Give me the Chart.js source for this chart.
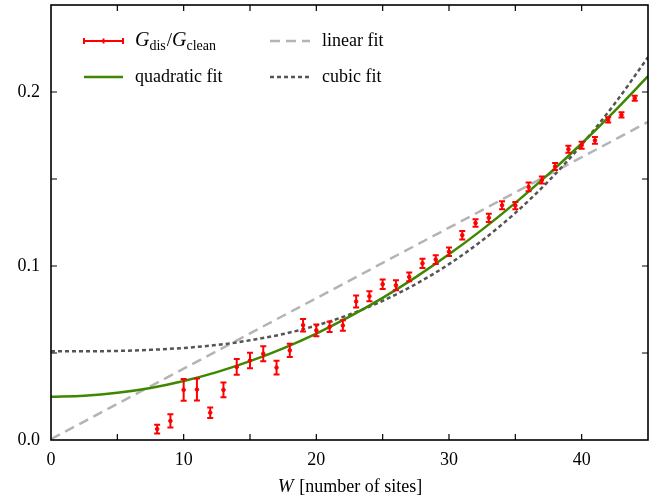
<!DOCTYPE html>
<html>
<head>
<meta charset="utf-8">
<script src="https://cdn.jsdelivr.net/npm/chart.js@4.4.1/dist/chart.umd.min.js"></script>
<style>
html,body{margin:0;padding:0;background:#fff;}
#wrap{width:670px;height:499px;}
</style>
</head>
<body>
<div id="wrap"><canvas id="c" width="670" height="499"></canvas></div>
<script>
// ---- data ----
const W = [8,9,10,11,12,13,14,15,16,17,18,19,20,21,22,23,24,25,26,27,28,29,30,31,32,33,34,35,36,37,38,39,40,41,42,43,44];
const G = [0.0063,0.0110,0.0288,0.0290,0.0157,0.0288,0.0420,0.0457,0.0496,0.0416,0.0515,0.0660,0.0630,0.0650,0.0658,0.0796,0.0826,0.0895,0.0889,0.0937,0.1015,0.1037,0.1082,0.1177,0.1247,0.1277,0.1349,0.1347,0.1455,0.1494,0.1572,0.1671,0.1694,0.1722,0.1840,0.1868,0.1964];
const Gerr = [0.0025,0.0038,0.0063,0.0063,0.0030,0.0043,0.0045,0.0044,0.0043,0.0040,0.0038,0.0036,0.0034,0.0030,0.0030,0.0034,0.0029,0.0027,0.0029,0.0025,0.0026,0.0025,0.0025,0.0024,0.0021,0.0024,0.0023,0.0021,0.0025,0.0020,0.0020,0.0020,0.0020,0.0020,0.0015,0.0015,0.0015];

const fitW = [0,2.5,5,7.5,10,12.5,15,17.5,20,22.5,25,27.5,30,32.5,35,37.5,40,42.5,45];
const linearFit = [0.0005,0.0106,0.0208,0.0309,0.0410,0.0511,0.0613,0.0714,0.0815,0.0916,0.1018,0.1119,0.1220,0.1321,0.1423,0.1524,0.1625,0.1726,0.1828];
const quadFit = [0.0248,0.0254,0.0271,0.0299,0.0339,0.0390,0.0453,0.0527,0.0612,0.0709,0.0817,0.0936,0.1067,0.1209,0.1363,0.1528,0.1704,0.1892,0.2091];
const cubicFit = [0.0510,0.0510,0.0512,0.0518,0.0529,0.0546,0.0573,0.0609,0.0658,0.0721,0.0800,0.0896,0.1011,0.1147,0.1305,0.1488,0.1697,0.1934,0.2200];

const xTickLabels = [0,10,20,30,40];
const yTickLabels = [0.0,0.1,0.2];

const FONT = "'Liberation Serif', 'DejaVu Serif', serif";
const RED = '#ff0000', GREEN = '#3f8700', LGRAY = '#b4b4b4', DGRAY = '#555555';

const pts = (xs, ys) => xs.map((x,i)=>({x:x, y:ys[i]}));

const errPlugin = {
  id:'errbars',
  afterDatasetsDraw(chart){
    const ctx = chart.ctx, xs = chart.scales.x, ys = chart.scales.y;
    ctx.save();
    ctx.strokeStyle = RED; ctx.lineWidth = 2;
    W.forEach((w,i)=>{
      const px = xs.getPixelForValue(w);
      const y1 = ys.getPixelForValue(G[i]-Gerr[i]);
      const y2 = ys.getPixelForValue(G[i]+Gerr[i]);
      ctx.beginPath();
      ctx.moveTo(px,y1); ctx.lineTo(px,y2);
      ctx.moveTo(px-3,y1); ctx.lineTo(px+3,y1);
      ctx.moveTo(px-3,y2); ctx.lineTo(px+3,y2);
      ctx.stroke();
    });
    ctx.restore();
  },
  afterDraw(chart){
    const ctx = chart.ctx, a = chart.chartArea, xs = chart.scales.x, ys = chart.scales.y;
    ctx.save();
    // frame
    ctx.strokeStyle = '#000'; ctx.lineWidth = 1.6;
    ctx.strokeRect(a.left, a.top, a.right-a.left, a.bottom-a.top);
    // inward ticks
    ctx.lineWidth = 1.2;
    ctx.beginPath();
    xs.ticks.forEach(t=>{
      const p = xs.getPixelForValue(t.value);
      if (p<=a.left+1 || p>=a.right-1) return;
      ctx.moveTo(p,a.bottom); ctx.lineTo(p,a.bottom-6);
      ctx.moveTo(p,a.top); ctx.lineTo(p,a.top+6);
    });
    ys.ticks.forEach(t=>{
      const p = ys.getPixelForValue(t.value);
      if (p<=a.top+1 || p>=a.bottom-1) return;
      ctx.moveTo(a.left,p); ctx.lineTo(a.left+6,p);
      ctx.moveTo(a.right,p); ctx.lineTo(a.right-6,p);
    });
    ctx.stroke();

    // x axis title
    ctx.fillStyle = '#000';
    ctx.textBaseline = 'alphabetic';
    const t1 = 'W', t2 = ' [number of sites]';
    ctx.font = 'italic 19px ' + FONT;
    const w1 = ctx.measureText(t1).width;
    ctx.font = '18px ' + FONT;
    const w2 = ctx.measureText(t2).width;
    let sx = (a.left + a.right)/2 - (w1+w2)/2;
    ctx.font = 'italic 19px ' + FONT;
    ctx.fillText(t1, sx, 492);
    ctx.font = '18px ' + FONT;
    ctx.fillText(t2, sx+w1+1, 492);

    // legend
    const r1 = 41, r2 = 77;
    ctx.strokeStyle = RED; ctx.lineWidth = 2;
    ctx.beginPath();
    ctx.moveTo(84,r1); ctx.lineTo(123,r1);
    ctx.moveTo(84,r1-3); ctx.lineTo(84,r1+3);
    ctx.moveTo(123,r1-3); ctx.lineTo(123,r1+3);
    ctx.moveTo(103.5,r1-2.5); ctx.lineTo(103.5,r1+2.5);
    ctx.stroke();
    ctx.strokeStyle = GREEN; ctx.lineWidth = 2.5;
    ctx.beginPath(); ctx.moveTo(84,r2); ctx.lineTo(123,r2); ctx.stroke();
    ctx.strokeStyle = LGRAY; ctx.setLineDash([10,6]);
    ctx.beginPath(); ctx.moveTo(270,r1); ctx.lineTo(310,r1); ctx.stroke();
    ctx.strokeStyle = DGRAY; ctx.setLineDash([4,3]);
    ctx.beginPath(); ctx.moveTo(270,r2); ctx.lineTo(310,r2); ctx.stroke();
    ctx.setLineDash([]);

    ctx.fillStyle = '#000';
    ctx.font = '18px ' + FONT;
    ctx.fillText('quadratic fit', 135, r2+5);
    ctx.fillText('linear fit', 322, r1+5);
    ctx.fillText('cubic fit', 322, r2+5);
    let x = 135;
    const base = r1+5;
    const part = (txt, font, dy) => { ctx.font = font; ctx.fillText(txt, x, base+dy); x += ctx.measureText(txt).width; };
    part('G', 'italic 20px ' + FONT, 0);
    part('dis', '14px ' + FONT, 4);
    x += 1;
    part('/', '19px ' + FONT, 0);
    part('G', 'italic 20px ' + FONT, 0);
    part('clean', '14px ' + FONT, 4);
    ctx.restore();
  }
};

new Chart(document.getElementById('c'), {
  type: 'scatter',
  data: {
    datasets: [
      { label:'G', data: pts(W,G), showLine:false, pointRadius:1.8, pointBackgroundColor:RED, pointBorderColor:RED, order:0 },
      { label:'quadratic fit', data: pts(fitW,quadFit), showLine:true, borderColor:GREEN, borderWidth:2.5, pointRadius:0, cubicInterpolationMode:'monotone', order:1 },
      { label:'cubic fit', data: pts(fitW,cubicFit), showLine:true, borderColor:DGRAY, borderWidth:2.5, borderDash:[4,3], pointRadius:0, cubicInterpolationMode:'monotone', order:2 },
      { label:'linear fit', data: pts(fitW,linearFit), showLine:true, borderColor:LGRAY, borderWidth:2.5, borderDash:[10,6], pointRadius:0, order:3 }
    ]
  },
  options: {
    responsive:false,
    animation:false,
    devicePixelRatio:1,
    layout:{ padding:{ top:5, right:22, left:0, bottom:0 } },
    plugins:{ legend:{display:false}, tooltip:{enabled:false} },
    scales:{
      x:{
        type:'linear', min:0, max:45,
        grid:{ display:true, drawOnChartArea:false, drawTicks:false, color:'rgba(0,0,0,0)' },
        border:{ display:false },
        ticks:{ stepSize:5, padding:9, maxRotation:0, autoSkip:false, color:'#000', font:{ family:FONT, size:18 },
          callback:(v)=> xTickLabels.includes(v) ? String(v) : '' },
        afterFit:(s)=>{ s.height = 59; s.paddingLeft = 0; s.paddingRight = 0; }
      },
      y:{
        type:'linear', min:0, max:0.25,
        grid:{ display:true, drawOnChartArea:false, drawTicks:false, color:'rgba(0,0,0,0)' },
        border:{ display:false },
        ticks:{ stepSize:0.05, padding:11, autoSkip:false, color:'#000', font:{ family:FONT, size:18 },
          callback:(v)=>{ const m = yTickLabels.find(l=>Math.abs(l-v)<1e-6); return m!==undefined ? m.toFixed(1) : ''; } },
        afterFit:(s)=>{ s.width = 51; s.paddingTop = 0; s.paddingBottom = 0; }
      }
    }
  },
  plugins:[errPlugin]
});
</script>
</body>
</html>
